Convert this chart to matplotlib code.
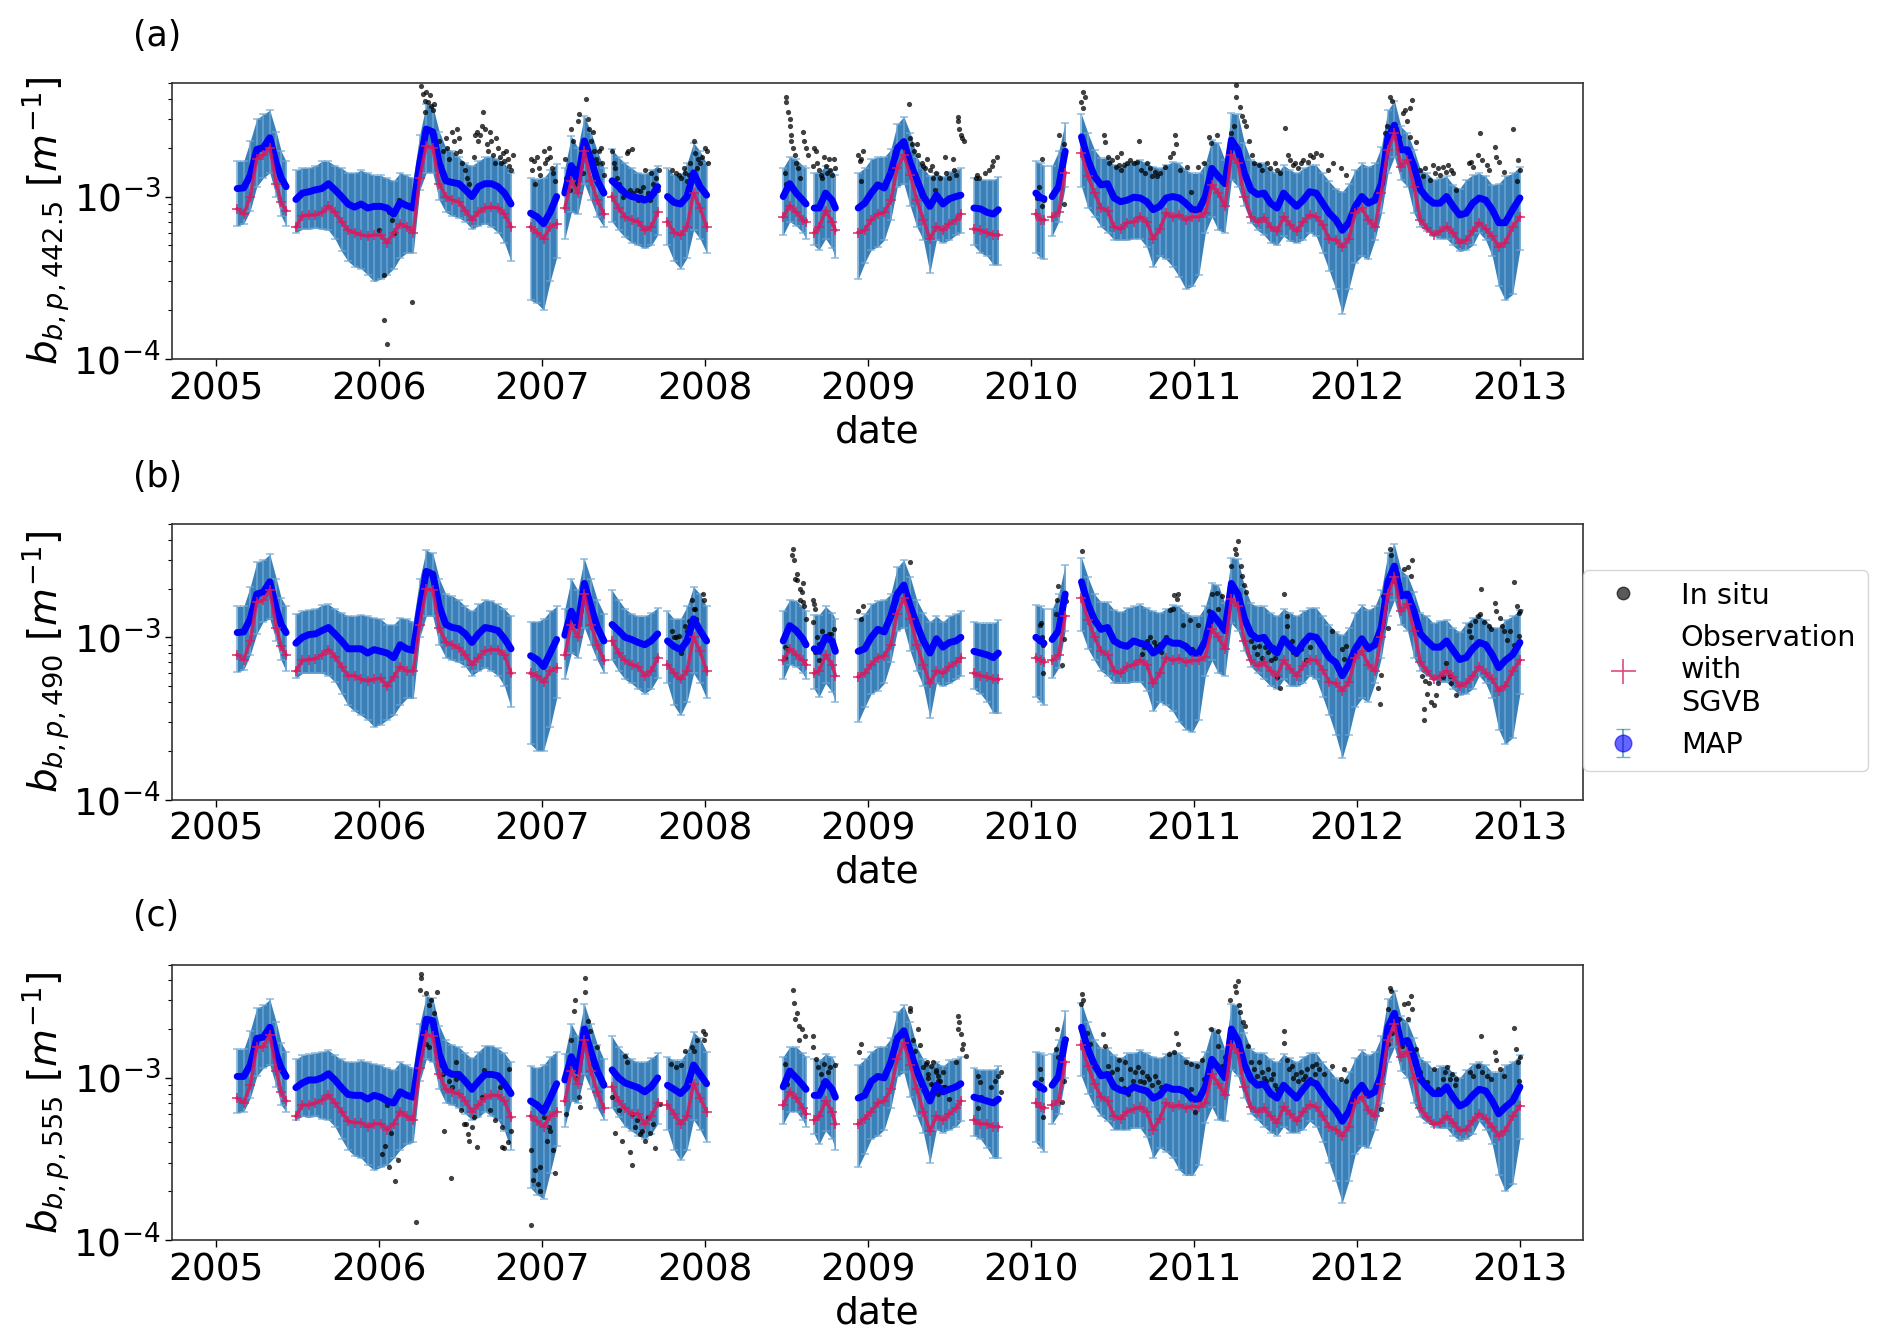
import numpy as np
import matplotlib
matplotlib.use('Agg')
import matplotlib.pyplot as plt
from matplotlib.lines import Line2D

# all b_bp values below are in units of 1e-3 m^-1
dates = [2005.13,2005.17,2005.21,2005.25,2005.29,2005.33,2005.37,2005.40,2005.43,
 2005.49,2005.53,2005.57,2005.61,2005.65,2005.69,2005.73,2005.77,2005.81,2005.85,2005.89,2005.93,2005.97,2006.01,2006.05,2006.09,2006.13,2006.17,2006.21,2006.25,2006.29,2006.33,2006.37,2006.41,2006.45,2006.49,2006.53,2006.57,2006.61,2006.65,2006.69,2006.73,2006.77,2006.81,
 2006.93,2006.97,2007.01,2007.05,2007.09,
 2007.14,2007.18,2007.22,2007.26,2007.30,2007.34,2007.38,
 2007.43,2007.47,2007.51,2007.55,2007.59,2007.63,2007.67,2007.71,
 2007.77,2007.81,2007.85,2007.89,2007.93,2007.97,2008.01,
 2008.48,2008.52,2008.56,2008.60,2008.62,
 2008.67,2008.70,2008.74,2008.78,2008.80,
 2008.94,2008.98,2009.02,2009.06,2009.10,2009.14,2009.18,2009.22,2009.26,2009.30,2009.34,2009.38,2009.42,2009.46,2009.50,2009.54,2009.57,
 2009.65,2009.69,2009.73,2009.77,2009.80,
 2010.03,2010.06,2010.08,
 2010.13,2010.17,2010.21,
 2010.31,2010.35,2010.39,2010.43,2010.47,2010.51,2010.55,2010.59,2010.63,2010.67,2010.71,2010.75,2010.79,2010.83,2010.87,2010.91,2010.95,2010.99,
 2011.03,2011.07,2011.11,2011.15,2011.19,2011.23,2011.27,2011.31,2011.35,2011.39,2011.43,2011.47,2011.51,2011.55,2011.59,2011.63,2011.67,2011.71,2011.75,2011.79,2011.83,2011.87,2011.91,2011.95,2011.99,
 2012.03,2012.07,2012.11,2012.15,2012.19,2012.23,2012.27,2012.31,2012.35,2012.39,2012.43,2012.47,2012.51,2012.55,2012.59,2012.63,2012.67,2012.71,2012.75,2012.79,2012.83,2012.87,2012.91,2012.955,2013.00]

map_a = [1.12,1.13,1.35,1.95,2.0,2.3,1.6,1.3,1.15,
 .96,1.05,1.07,1.1,1.12,1.2,1.1,1.0,.9,.86,.9,.85,.87,.87,.85,.78,.92,.88,.85,1.6,2.6,2.5,1.6,1.25,1.22,1.2,1.1,1.0,1.15,1.2,1.2,1.15,1.05,.9,
 .79,.75,.68,.8,1.0,
 1.05,1.55,1.25,2.2,1.7,1.25,1.05,
 1.25,1.15,1.05,1.0,.98,.95,1.0,1.15,
 1.0,.92,.9,1.0,1.4,1.15,1.02,
 1.0,1.2,1.05,.95,.9,
 .85,.85,1.05,.95,.85,
 .85,.91,1.05,1.18,1.13,1.4,1.98,2.18,1.6,1.27,1.0,.87,1.02,.9,.97,1.0,1.02,
 .85,.84,.8,.78,.83,
 1.05,.98,.97,
 1.0,1.15,1.9,
 2.33,1.68,1.33,1.18,1.2,.98,.93,.95,.99,.98,.93,.83,.87,.98,1.0,.98,.91,.83,
 .83,1.0,1.49,1.33,1.2,2.23,1.94,1.39,1.1,1.03,1.05,.91,.85,1.05,.95,.87,.95,1.07,1.05,.91,.79,.72,.62,.69,.87,
 1.0,.91,.95,1.2,2.3,2.75,1.94,1.94,1.53,1.1,.98,.91,.91,1.0,.87,.77,.79,.91,.98,.95,.83,.69,.69,.83,.98]
hi_a = [1.65,1.65,2.2,3.0,3.2,3.4,2.5,1.9,1.65,
 1.45,1.5,1.5,1.55,1.65,1.65,1.55,1.5,1.4,1.4,1.45,1.4,1.35,1.35,1.3,1.25,1.4,1.35,1.3,2.4,3.7,3.6,2.5,2.0,1.9,1.75,1.6,1.55,1.65,1.75,1.75,1.7,1.6,1.4,
 1.3,1.28,1.3,1.45,1.58,
 1.5,2.35,2.0,3.15,2.5,1.9,1.5,
 1.95,1.75,1.6,1.5,1.4,1.38,1.45,1.55,
 1.5,1.35,1.35,1.6,2.15,1.9,1.6,
 1.5,1.75,1.7,1.55,1.5,
 1.4,1.4,1.55,1.45,1.35,
 1.4,1.5,1.7,1.75,1.75,1.95,2.8,3.1,2.45,1.75,1.5,1.33,1.4,1.32,1.42,1.46,1.5,
 1.3,1.27,1.27,1.27,1.32,
 1.65,1.6,1.55,
 1.55,1.9,2.85,
 3.2,2.45,1.94,1.72,1.72,1.56,1.53,1.6,1.64,1.68,1.6,1.53,1.49,1.56,1.64,1.6,1.46,1.39,
 1.39,1.6,2.23,2.13,1.68,3.25,3.2,2.13,1.68,1.6,1.6,1.46,1.39,1.56,1.46,1.39,1.49,1.56,1.56,1.39,1.24,1.12,1.07,1.2,1.46,
 1.6,1.53,1.6,2.03,3.4,3.9,2.7,2.45,1.94,1.46,1.39,1.27,1.3,1.33,1.18,1.12,1.27,1.36,1.39,1.33,1.18,1.2,1.33,1.39,1.53]
lo_a = [.66,.68,.82,1.15,1.3,1.4,1.0,.76,.66,
 .6,.63,.63,.64,.63,.62,.55,.46,.4,.37,.36,.33,.3,.31,.33,.36,.42,.45,.45,1.1,1.4,1.4,.95,.8,.76,.74,.7,.63,.66,.68,.65,.6,.52,.4,
 .23,.22,.2,.3,.42,
 .55,.8,.78,1.2,.95,.75,.65,
 .7,.62,.56,.52,.5,.48,.5,.58,
 .5,.4,.36,.42,.62,.55,.45,
 .58,.7,.66,.6,.55,
 .5,.47,.55,.48,.42,
 .31,.39,.47,.49,.54,.72,1.15,1.2,.87,.65,.54,.34,.54,.52,.54,.58,.6,
 .5,.45,.43,.38,.38,
 .45,.42,.41,
 .57,.7,1.15,
 1.15,.85,.75,.65,.6,.54,.54,.54,.55,.55,.49,.37,.43,.41,.37,.32,.27,.28,
 .33,.6,.75,.62,.6,1.27,1.15,.87,.69,.62,.58,.52,.5,.57,.53,.52,.54,.6,.57,.45,.35,.27,.19,.27,.39,
 .43,.41,.54,.79,1.39,1.76,1.27,1.15,.79,.65,.61,.57,.55,.55,.5,.46,.47,.5,.6,.54,.43,.28,.23,.25,.47]
obs_a = [.84,.78,1.0,1.7,1.8,2.0,1.2,.92,.82,
 .65,.76,.77,.77,.8,.87,.8,.7,.62,.6,.58,.57,.58,.58,.52,.6,.68,.65,.6,1.3,2.05,2.0,1.2,1.0,.95,.93,.82,.72,.8,.85,.86,.85,.78,.65,
 .65,.6,.55,.65,.68,
 .85,1.25,1.05,1.9,1.25,.95,.78,
 1.0,.85,.75,.72,.7,.62,.65,.8,
 .7,.6,.58,.65,1.05,.85,.65,
 .75,.88,.8,.72,.7,
 .6,.65,.82,.7,.62,
 .6,.62,.72,.78,.8,.95,1.5,1.8,1.35,.95,.72,.55,.65,.62,.68,.72,.78,
 .63,.62,.6,.58,.58,
 .78,.72,.72,
 .75,.8,1.4,
 1.85,1.33,1.05,.85,.82,.65,.63,.69,.7,.75,.7,.55,.63,.79,.75,.77,.72,.75,
 .75,.79,1.18,1.05,.87,1.8,1.6,1.0,.75,.7,.74,.65,.61,.75,.67,.61,.7,.77,.75,.67,.55,.54,.49,.55,.79,
 .85,.72,.65,1.05,1.94,2.45,1.53,1.68,1.15,.72,.64,.58,.61,.65,.6,.52,.54,.61,.69,.63,.57,.49,.52,.65,.75]

map_b = [1.07,1.08,1.3,1.85,1.9,2.2,1.5,1.2,1.07,
 .92,1.0,1.04,1.05,1.1,1.15,1.05,.95,.85,.85,.85,.8,.84,.82,.8,.75,.9,.85,.83,1.5,2.55,2.45,1.55,1.2,1.15,1.13,1.05,.93,1.05,1.15,1.13,1.1,.98,.85,
 .77,.73,.66,.8,.97,
 1.03,1.45,1.18,2.15,1.55,1.15,.95,
 1.2,1.1,1.0,.97,.93,.9,.95,1.05,
 .95,.88,.84,.95,1.3,1.1,.95,
 .95,1.18,1.1,.98,.9,
 .85,.82,1.0,.95,.82,
 .82,.85,1.0,1.12,1.08,1.35,1.85,2.1,1.55,1.2,.95,.8,.98,.87,.93,.95,1.0,
 .82,.8,.78,.75,.8,
 1.0,.95,.92,
 .97,1.1,1.85,
 2.2,1.6,1.28,1.12,1.15,.95,.9,.88,.95,.92,.9,.8,.85,.96,.92,.92,.88,.8,
 .8,.95,1.4,1.25,1.1,2.15,1.85,1.3,1.05,.98,1.0,.87,.8,.98,.88,.8,.92,1.02,1.0,.87,.75,.7,.58,.68,.85,
 .98,.85,.9,1.15,2.2,2.75,1.8,1.85,1.45,1.05,.95,.87,.87,.95,.83,.73,.75,.85,.93,.9,.78,.65,.72,.78,.93]
hi_b = [1.55,1.55,2.05,2.9,3.0,3.25,2.3,1.75,1.55,
 1.4,1.46,1.48,1.5,1.58,1.6,1.5,1.42,1.36,1.35,1.38,1.35,1.32,1.3,1.2,1.2,1.32,1.3,1.25,2.3,3.45,3.3,2.3,1.85,1.8,1.7,1.55,1.45,1.6,1.7,1.68,1.6,1.5,1.35,
 1.25,1.25,1.3,1.45,1.55,
 1.5,2.3,1.95,3.05,2.3,1.7,1.4,
 1.95,1.7,1.5,1.4,1.35,1.35,1.42,1.52,
 1.45,1.3,1.3,1.55,2.05,1.85,1.55,
 1.45,1.7,1.68,1.55,1.45,
 1.38,1.38,1.55,1.42,1.3,
 1.3,1.4,1.6,1.68,1.7,1.85,2.7,3.0,2.35,1.7,1.42,1.25,1.35,1.25,1.35,1.4,1.45,
 1.25,1.22,1.22,1.22,1.28,
 1.58,1.55,1.5,
 1.5,1.85,2.8,
 3.1,2.35,1.85,1.65,1.65,1.48,1.43,1.52,1.55,1.6,1.52,1.45,1.42,1.5,1.58,1.55,1.42,1.35,
 1.35,1.55,2.15,2.1,1.62,3.1,3.05,2.05,1.62,1.55,1.55,1.42,1.35,1.5,1.42,1.35,1.45,1.52,1.52,1.35,1.2,1.08,1.03,1.15,1.42,
 1.58,1.48,1.55,1.95,3.3,3.75,2.6,2.4,1.9,1.42,1.35,1.22,1.27,1.28,1.15,1.08,1.22,1.32,1.35,1.28,1.15,1.15,1.28,1.35,1.48]
lo_b = [.61,.63,.78,1.05,1.25,1.3,.95,.72,.62,
 .56,.6,.6,.6,.6,.58,.53,.45,.38,.35,.33,.31,.28,.29,.31,.33,.38,.42,.42,1.0,1.35,1.35,.9,.75,.72,.7,.66,.58,.62,.65,.62,.58,.5,.37,
 .22,.2,.2,.28,.42,
 .55,.8,.75,1.15,.9,.72,.6,
 .72,.62,.55,.52,.48,.45,.48,.56,
 .52,.38,.33,.4,.6,.52,.42,
 .55,.68,.66,.6,.55,
 .48,.43,.52,.46,.4,
 .3,.37,.45,.47,.52,.7,1.1,1.15,.82,.62,.5,.32,.52,.5,.52,.55,.58,
 .48,.45,.4,.34,.34,
 .43,.4,.38,
 .56,.65,1.1,
 1.1,.85,.72,.62,.58,.52,.52,.52,.53,.53,.47,.35,.4,.38,.35,.3,.27,.26,
 .31,.58,.72,.6,.58,1.22,1.1,.82,.66,.6,.55,.5,.48,.55,.5,.5,.52,.58,.55,.43,.33,.25,.18,.25,.37,
 .42,.4,.52,.75,1.35,1.7,1.2,1.1,.75,.62,.58,.55,.53,.53,.48,.44,.45,.48,.58,.52,.42,.27,.22,.24,.45]
obs_b = [.78,.73,.95,1.65,1.7,1.95,1.15,.88,.78,
 .62,.72,.73,.74,.78,.84,.76,.66,.58,.58,.55,.54,.55,.56,.5,.57,.66,.62,.62,1.2,1.98,1.95,1.15,.93,.9,.86,.78,.68,.75,.82,.84,.84,.78,.6,
 .6,.58,.53,.62,.65,
 .78,1.2,1.0,1.85,1.2,.9,.72,
 .95,.8,.72,.68,.66,.58,.62,.75,
 .68,.6,.55,.62,1.0,.82,.62,
 .72,.85,.78,.72,.68,
 .6,.62,.78,.68,.58,
 .57,.6,.68,.75,.77,.9,1.4,1.75,1.3,.9,.68,.52,.62,.6,.66,.7,.75,
 .6,.58,.57,.55,.55,
 .75,.72,.7,
 .72,.78,1.35,
 1.75,1.28,1.0,.82,.78,.62,.6,.66,.68,.72,.68,.52,.6,.75,.72,.74,.7,.72,
 .72,.76,1.12,1.0,.85,1.72,1.55,.95,.72,.67,.7,.62,.58,.72,.64,.58,.67,.73,.72,.63,.53,.52,.47,.53,.75,
 .82,.68,.62,1.0,1.85,2.35,1.45,1.6,1.1,.7,.62,.55,.58,.62,.57,.5,.52,.58,.66,.6,.55,.47,.5,.62,.72]

map_c = [1.02,1.02,1.2,1.75,1.78,2.05,1.4,1.15,1.02,
 .87,.93,.97,.97,1.0,1.06,.97,.87,.79,.78,.78,.74,.78,.76,.72,.7,.82,.78,.76,1.4,2.3,2.25,1.4,1.1,1.05,1.05,.95,.85,.95,1.05,1.05,1.03,.92,.8,
 .72,.68,.62,.75,.92,
 .97,1.35,1.1,2.0,1.45,1.1,.9,
 1.12,1.0,.93,.9,.87,.82,.88,1.0,
 .9,.85,.8,.88,1.2,1.05,.92,
 .88,1.1,1.0,.9,.85,
 .78,.78,.95,.85,.76,
 .75,.78,.95,1.02,1.0,1.25,1.75,1.95,1.45,1.1,.88,.72,.9,.82,.85,.88,.92,
 .76,.74,.72,.7,.74,
 .92,.88,.85,
 .9,1.02,1.72,
 2.05,1.5,1.2,1.03,1.05,.88,.84,.82,.88,.85,.83,.75,.78,.88,.85,.85,.82,.74,
 .74,.88,1.3,1.15,1.0,2.0,1.7,1.2,.98,.9,.92,.8,.75,.9,.82,.75,.85,.95,.92,.8,.7,.63,.54,.62,.8,
 .9,.78,.82,1.05,2.05,2.5,1.65,1.7,1.35,.98,.88,.8,.8,.88,.76,.67,.7,.78,.85,.83,.72,.6,.66,.72,.88]
hi_c = [1.5,1.5,1.95,2.7,2.8,3.05,2.2,1.65,1.45,
 1.3,1.38,1.4,1.42,1.45,1.48,1.38,1.3,1.25,1.25,1.28,1.25,1.22,1.2,1.15,1.12,1.25,1.2,1.15,2.15,3.2,3.1,2.1,1.7,1.6,1.55,1.42,1.32,1.45,1.58,1.58,1.52,1.42,1.25,
 1.18,1.15,1.2,1.35,1.45,
 1.4,2.15,1.8,2.85,2.15,1.6,1.3,
 1.8,1.55,1.4,1.3,1.25,1.25,1.32,1.42,
 1.35,1.28,1.28,1.45,1.92,1.75,1.45,
 1.35,1.55,1.55,1.42,1.35,
 1.3,1.28,1.4,1.35,1.22,
 1.2,1.3,1.45,1.55,1.55,1.75,2.55,2.8,2.2,1.55,1.3,1.18,1.25,1.18,1.28,1.3,1.35,
 1.15,1.12,1.12,1.12,1.18,
 1.45,1.42,1.38,
 1.4,1.72,2.6,
 2.9,2.2,1.72,1.52,1.52,1.38,1.32,1.42,1.42,1.48,1.42,1.35,1.32,1.4,1.45,1.42,1.32,1.25,
 1.25,1.45,2.0,1.95,1.5,2.85,2.8,1.9,1.5,1.42,1.42,1.3,1.25,1.4,1.32,1.25,1.35,1.42,1.42,1.25,1.12,1.0,.95,1.08,1.32,
 1.48,1.38,1.45,1.8,3.05,3.45,2.4,2.2,1.75,1.32,1.25,1.12,1.18,1.18,1.07,1.0,1.12,1.22,1.25,1.2,1.08,1.08,1.2,1.25,1.38]
lo_c = [.61,.62,.75,1.02,1.15,1.2,.88,.68,.62,
 .55,.58,.57,.58,.56,.55,.5,.42,.36,.33,.32,.29,.27,.28,.29,.32,.36,.39,.4,.95,1.3,1.25,.85,.7,.68,.65,.6,.55,.57,.62,.58,.55,.47,.36,
 .21,.19,.18,.26,.38,
 .5,.72,.7,1.05,.85,.65,.55,
 .65,.57,.5,.47,.44,.42,.45,.52,
 .48,.36,.31,.36,.55,.48,.4,
 .52,.62,.62,.55,.5,
 .45,.39,.47,.42,.36,
 .28,.34,.42,.44,.48,.65,1.02,1.08,.76,.58,.46,.3,.48,.46,.48,.5,.54,
 .44,.42,.37,.32,.32,
 .4,.37,.35,
 .52,.6,1.0,
 1.02,.8,.66,.58,.54,.48,.48,.48,.49,.49,.43,.32,.37,.35,.32,.27,.25,.25,
 .29,.53,.66,.55,.54,1.12,1.02,.75,.6,.55,.5,.46,.44,.5,.46,.46,.48,.54,.5,.4,.3,.23,.17,.23,.34,
 .38,.37,.48,.7,1.25,1.55,1.1,1.0,.7,.57,.53,.5,.49,.49,.44,.41,.42,.45,.54,.48,.39,.25,.2,.22,.42]
obs_c = [.75,.7,.9,1.55,1.55,1.85,1.1,.82,.72,
 .58,.68,.68,.7,.73,.78,.7,.62,.54,.53,.53,.5,.52,.52,.48,.52,.62,.58,.55,1.15,1.85,1.8,1.05,.85,.82,.8,.72,.62,.68,.75,.78,.78,.72,.57,
 .58,.54,.5,.58,.62,
 .72,1.1,.92,1.7,1.1,.82,.65,
 .88,.72,.65,.6,.6,.52,.58,.7,
 .68,.6,.52,.58,.92,.75,.62,
 .68,.82,.75,.65,.6,
 .55,.58,.72,.62,.52,
 .52,.56,.62,.7,.72,.85,1.3,1.65,1.2,.85,.62,.47,.58,.55,.6,.65,.72,
 .55,.52,.52,.5,.5,
 .7,.66,.65,
 .68,.72,1.25,
 1.6,1.18,.92,.76,.72,.58,.56,.62,.64,.66,.62,.48,.56,.7,.66,.68,.65,.67,
 .66,.7,1.05,.92,.78,1.6,1.42,.88,.66,.62,.65,.58,.53,.66,.6,.54,.62,.68,.66,.58,.5,.48,.44,.5,.7,
 .76,.63,.58,.92,1.7,2.15,1.35,1.45,1.0,.65,.57,.52,.53,.58,.53,.47,.48,.54,.6,.56,.5,.44,.47,.58,.67]

insitu_a = [(2006.03,.33),(2006.03,.175),(2006.05,.123),(2006.2,.225),(2006.06,.8),(2006.08,.72),(2006.09,.6),(2006.0,.62),(2006.12,.95),
 (2006.26,4.8),(2006.27,4.3),(2006.28,3.9),(2006.29,4.4),(2006.3,3.8),(2006.31,4.2),(2006.32,3.6),(2006.33,3.4),(2006.34,3.7),(2006.28,3.3),
 (2006.37,2.2),(2006.39,1.9),(2006.38,1.55),(2006.41,2.3),(2006.42,2.0),(2006.43,1.7),(2006.45,2.5),(2006.46,2.2),(2006.47,1.85),(2006.48,2.6),(2006.49,2.3),(2006.5,1.9),(2006.51,1.6),(2006.53,1.45),(2006.54,1.3),(2006.55,1.2),(2006.58,1.75),(2006.59,2.4),(2006.6,2.5),(2006.61,2.2),(2006.62,2.4),(2006.63,2.7),(2006.64,3.3),(2006.65,2.6),(2006.66,2.1),(2006.67,1.9),(2006.68,2.5),(2006.69,2.2),(2006.7,1.8),(2006.71,1.6),(2006.72,2.3),(2006.73,2.0),(2006.74,1.75),(2006.75,1.6),(2006.76,1.85),(2006.77,1.65),(2006.78,1.9),(2006.79,1.7),(2006.8,1.55),(2006.81,1.45),(2006.82,1.8),
 (2006.93,1.7),(2006.94,1.45),(2006.95,1.65),(2006.96,1.2),(2006.97,1.75),(2006.98,1.5),(2006.99,1.35),(2007.01,1.9),(2007.02,1.6),(2007.03,1.7),(2007.04,2.0),(2007.05,1.75),(2007.06,1.5),(2007.07,1.4),(2007.08,1.25),
 (2007.14,1.7),(2007.15,1.3),(2007.17,1.1),(2007.18,2.6),(2007.19,2.2),(2007.2,1.5),(2007.21,1.2),(2007.22,2.9),(2007.23,3.2),(2007.24,2.0),(2007.25,1.4),(2007.26,1.8),(2007.27,4.0),(2007.28,3.0),(2007.29,2.6),(2007.3,2.2),(2007.31,2.5),(2007.32,1.9),(2007.33,1.7),(2007.34,1.6),(2007.35,1.9),(2007.36,2.0),(2007.37,1.6),(2007.38,1.35),
 (2007.43,1.9),(2007.44,1.6),(2007.45,1.5),(2007.46,1.3),(2007.47,1.2),(2007.48,1.1),(2007.5,1.0),(2007.52,1.85),(2007.53,1.9),(2007.54,1.1),(2007.55,1.95),(2007.56,1.05),(2007.57,1.0),(2007.58,1.1),(2007.59,.95),(2007.6,1.08),(2007.61,1.0),(2007.62,1.15),(2007.63,1.45),(2007.64,.98),(2007.65,1.05),(2007.66,.95),(2007.67,1.4),(2007.68,1.2),(2007.69,1.05),(2007.7,1.3),(2007.71,1.1),(2007.72,1.45),
 (2007.8,1.45),(2007.82,1.4),(2007.84,1.35),(2007.85,1.3),(2007.87,1.5),(2007.88,1.4),(2007.89,1.25),(2007.9,1.35),(2007.91,1.6),(2007.93,2.2),(2007.94,1.85),(2007.95,1.5),(2007.96,1.7),(2007.97,1.6),(2007.98,1.75),(2008.0,2.0),(2008.01,1.9),(2008.02,1.6),
 (2008.5,4.1),(2008.5,3.8),(2008.51,3.3),(2008.52,3.0),(2008.52,2.7),(2008.53,2.4),(2008.53,2.2),(2008.54,2.0),(2008.49,1.4),(2008.5,1.2),(2008.55,1.8),(2008.56,1.6),(2008.57,1.5),(2008.58,1.3),(2008.6,2.5),(2008.61,2.2),(2008.62,2.0),(2008.63,1.8),(2008.66,1.55),(2008.67,2.0),(2008.68,1.9),(2008.69,1.6),(2008.7,1.45),(2008.71,1.35),(2008.72,1.3),(2008.73,1.75),(2008.74,1.55),(2008.75,1.4),(2008.76,1.7),(2008.77,1.45),(2008.78,1.35),(2008.79,1.7),(2008.8,1.5),
 (2008.94,1.8),(2008.95,1.65),(2008.96,1.25),(2008.96,1.7),(2008.97,1.9),
 (2009.25,3.7),(2009.26,2.3),(2009.27,2.1),(2009.28,1.9),(2009.3,2.1),(2009.31,1.8),(2009.33,1.6),(2009.34,1.55),(2009.35,1.5),(2009.36,1.7),(2009.38,1.45),(2009.39,1.55),(2009.4,1.3),(2009.41,1.1),(2009.42,1.4),(2009.44,1.3),(2009.47,1.75),(2009.48,1.4),(2009.5,1.3),(2009.52,1.7),(2009.53,1.45),(2009.54,1.35),(2009.55,3.1),(2009.555,2.9),(2009.56,2.6),(2009.57,2.4),(2009.58,2.3),(2009.59,2.2),
 (2009.66,1.3),(2009.67,1.35),(2009.68,1.3),(2009.72,1.4),(2009.74,1.45),(2009.76,1.55),(2009.77,1.65),(2009.79,1.75),
 (2010.04,.98),(2010.05,1.15),(2010.06,1.0),(2010.07,.88),(2010.08,.95),(2010.07,1.7),(2010.17,2.4),(2010.18,1.15),(2010.2,.9),(2010.205,2.1),(2010.21,1.9),(2010.31,3.8),(2010.32,4.4),(2010.33,4.1),(2010.32,3.5),
 (2010.45,2.4),(2010.455,2.18),(2010.47,1.76),(2010.48,1.6),(2010.5,1.68),(2010.52,1.53),(2010.525,1.76),(2010.54,1.56),(2010.55,1.85),(2010.555,1.46),(2010.57,1.56),(2010.59,1.6),(2010.61,1.68),(2010.635,1.6),(2010.65,1.64),(2010.665,2.2),(2010.675,1.46),(2010.7,1.39),(2010.71,1.6),(2010.73,1.49),(2010.745,1.33),(2010.76,1.42),(2010.775,1.33),(2010.79,1.39),(2010.82,1.53),(2010.855,1.76),(2010.87,1.85),(2010.885,2.4),(2010.89,2.1),(2010.915,1.46),(2010.96,1.53),(2010.98,1.07),
 (2011.025,1.53),(2011.06,1.6),(2011.09,2.33),(2011.105,2.13),(2011.14,2.4),(2011.23,2.45),(2011.245,2.7),(2011.26,4.85),(2011.26,4.1),(2011.28,3.55),(2011.295,3.15),(2011.31,2.9),(2011.32,2.7),(2011.34,2.2),(2011.355,1.8),(2011.37,1.6),(2011.4,1.56),(2011.42,1.46),(2011.45,1.6),(2011.465,1.49),(2011.495,1.6),(2011.51,1.46),(2011.53,1.39),(2011.56,2.63),(2011.575,1.8),(2011.59,1.68),(2011.605,1.56),(2011.62,1.6),(2011.64,1.49),(2011.655,1.6),(2011.67,1.68),(2011.7,1.64),(2011.715,1.8),(2011.73,1.76),(2011.75,1.85),(2011.78,1.8),(2011.825,1.46),(2011.855,1.6),(2011.9,1.49),(2011.935,1.36),
 (2012.14,1.1),(2012.17,2.45),(2012.185,2.7),(2012.2,4.1),(2012.215,3.9),(2012.23,2.7),(2012.245,2.45),(2012.26,2.33),(2012.28,3.25),(2012.295,3.4),(2012.31,2.9),(2012.325,3.5),(2012.335,3.95),(2012.325,2.33),(2012.365,2.18),(2012.385,1.46),(2012.405,1.33),(2012.42,1.49),(2012.45,1.27),(2012.465,1.56),(2012.48,1.39),(2012.5,1.49),(2012.51,1.36),(2012.53,1.53),(2012.545,1.42),(2012.56,1.56),(2012.575,1.46),(2012.59,1.39),(2012.605,1.1),(2012.685,1.6),(2012.7,1.64),(2012.715,1.53),(2012.74,1.8),(2012.755,2.47),(2012.765,1.68),(2012.795,1.56),(2012.81,1.46),(2012.845,2.03),(2012.855,1.76),(2012.87,1.64),(2012.905,1.42),(2012.96,2.6),(2012.98,1.24),(2012.99,1.68),(2013.0,1.46)]

insitu_b = [(2007.8,1.1),(2007.81,1.0),(2007.82,1.0),(2007.84,1.02),(2007.85,.8),(2007.86,.85),(2007.88,1.18),(2007.89,1.1),(2007.9,1.27),(2007.91,1.2),(2007.92,1.7),(2007.93,1.5),(2007.94,1.5),(2007.945,1.3),(2007.99,1.85),(2007.995,1.7),
 (2008.54,3.5),(2008.535,3.2),(2008.545,3.0),(2008.565,2.45),(2008.55,2.3),(2008.565,2.25),(2008.583,2.0),(2008.6,2.15),(2008.595,1.9),(2008.58,1.7),(2008.6,1.65),(2008.605,1.55),(2008.49,.87),(2008.49,.75),(2008.51,.85),(2008.53,1.15),(2008.66,1.7),(2008.67,1.6),(2008.675,1.5),(2008.62,1.3),(2008.66,1.25),(2008.69,1.0),(2008.7,.91),(2008.72,1.09),(2008.73,1.0),(2008.745,1.02),(2008.76,1.05),(2008.775,1.05),(2008.79,1.13),(2008.675,.81),(2008.7,.72),(2008.94,1.45),(2008.955,1.3),(2008.97,1.55),(2009.26,2.9),
 (2010.055,1.2),(2010.06,1.23),(2010.05,.95),(2010.075,.9),(2010.075,.6),(2010.065,1.01),(2010.165,2.07),(2010.16,1.7),(2010.155,1.4),(2010.19,.68),(2010.2,.97),(2010.215,1.68),(2010.315,3.4),
 (2010.668,.91),(2010.68,.79),(2010.695,.87),(2010.71,.95),(2010.724,.89),(2010.732,1.0),(2010.738,.83),(2010.752,.93),(2010.766,.89),(2010.78,.87),(2010.794,.91),(2010.8,.81),(2010.828,1.0),(2010.842,.95),(2010.856,1.47),(2010.87,1.5),(2010.88,1.83),(2010.893,1.72),(2010.9,1.85),(2010.935,1.2),(2010.977,1.28),(2010.99,.85),(2011.025,1.2),
 (2011.07,.98),(2011.09,1.46),(2011.11,1.86),(2011.14,1.89),(2011.15,1.5),(2011.175,1.8),(2011.23,2.76),(2011.25,3.5),(2011.27,3.9),(2011.26,3.25),(2011.287,2.76),(2011.296,2.4),(2011.31,2.1),(2011.32,1.9),(2011.34,1.15),(2011.35,.95),(2011.37,.87),(2011.385,.79),(2011.4,.89),(2011.415,.75),(2011.437,.87),(2011.456,.81),(2011.47,.72),(2011.485,.87),(2011.5,.75),(2011.51,.57),(2011.527,.49),(2011.555,1.85),(2011.57,1.18),(2011.57,1.36),(2011.6,.95),(2011.61,.81),(2011.625,.79),(2011.655,.85),(2011.67,.93),(2011.685,.72),(2011.71,.87),(2011.74,1.0),(2011.765,.93),(2011.795,.87),(2011.825,.78),(2011.85,1.09),(2011.91,.85),(2011.93,.89),(2011.92,.74),
 (2012.14,.39),(2012.13,.49),(2012.145,.59),(2012.16,1.8),(2012.19,1.15),(2012.2,3.5),(2012.21,3.2),(2012.225,2.23),(2012.245,2.45),(2012.26,2.13),(2012.275,1.85),(2012.29,2.63),(2012.315,2.7),(2012.34,3.0),(2012.33,2.4),(2012.365,1.3),(2012.4,.58),(2012.415,.54),(2012.43,.45),(2012.41,.36),(2012.41,.31),(2012.44,.52),(2012.455,.4),(2012.47,.38),(2012.485,.44),(2012.5,.52),(2012.525,.57),(2012.545,.69),(2012.57,.58),(2012.58,.52),(2012.61,.44),
 (2012.69,1.1),(2012.7,1.0),(2012.695,1.2),(2012.725,1.27),(2012.74,1.36),(2012.755,1.39),(2012.76,1.98),(2012.78,1.25),(2012.81,1.18),(2012.825,1.13),(2012.85,1.64),(2012.855,1.46),(2012.88,1.32),(2012.89,1.18),(2012.905,1.1),(2012.92,.96),(2012.94,1.1),(2012.965,2.18),(2012.965,.9),(2012.98,1.56),(2012.995,1.42),(2012.995,1.02),(2013.0,1.46)]

insitu_c = [(2006.02,.34),(2006.035,.38),(2006.06,.28),(2006.1,.23),(2006.115,.31),(2006.05,.68),(2006.075,.46),(2006.225,.13),
 (2006.255,4.4),(2006.26,4.15),(2006.25,3.5),(2006.29,3.35),(2006.355,3.4),(2006.32,3.0),(2006.305,2.8),(2006.335,2.5),(2006.335,1.86),(2006.29,1.62),(2006.305,1.54),(2006.35,1.47),(2006.365,1.34),(2006.38,1.2),(2006.395,1.06),(2006.41,1.11),(2006.43,.96),(2006.445,.88),(2006.475,1.25),(2006.475,.98),(2006.505,.63),(2006.52,.52),(2006.535,.52),(2006.545,.45),(2006.555,.41),(2006.57,.5),(2006.585,.57),(2006.6,.375),(2006.4,.47),(2006.44,.24),(2006.63,.76),(2006.645,1.11),(2006.68,.63),(2006.71,.55),(2006.74,.88),(2006.755,.5),(2006.77,.37),(2006.8,1.14),(2006.81,.47),(2006.79,.4),(2006.755,.375),
 (2006.93,.36),(2006.945,.235),(2006.96,.27),(2006.99,.28),(2006.975,.22),(2006.99,.2),(2006.93,.123),(2007.01,.57),(2007.03,.41),(2007.05,.47),(2007.07,.36),(2007.08,.26),(2007.04,.5),(2007.005,.66),
 (2007.15,.6),(2007.18,1.7),(2007.195,2.6),(2007.2,3.0),(2007.21,1.0),(2007.225,.76),(2007.235,.66),(2007.24,1.47),(2007.265,4.15),(2007.265,3.4),(2007.28,2.25),(2007.295,1.95),(2007.31,1.22),(2007.335,1.54),(2007.365,1.0),(2007.38,.92),
 (2007.43,.76),(2007.45,.46),(2007.47,.63),(2007.49,.41),(2007.51,1.37),(2007.52,1.25),(2007.54,.35),(2007.55,.29),(2007.555,.6),(2007.57,.5),(2007.585,.55),(2007.6,.45),(2007.615,.47),(2007.635,.41),(2007.65,.57),(2007.665,.46),(2007.68,.52),(2007.695,.37),(2007.725,.69),
 (2007.79,1.22),(2007.82,1.16),(2007.85,1.2),(2007.88,1.47),(2007.92,1.54),(2007.93,1.47),(2007.95,1.7),(2007.99,1.95),(2007.995,1.7),(2008.0,1.86),
 (2008.54,3.5),(2008.545,2.9),(2008.565,2.5),(2008.555,2.3),(2008.575,2.1),(2008.595,2.0),(2008.575,1.7),(2008.615,1.82),(2008.49,1.22),(2008.52,1.11),(2008.505,.92),(2008.66,1.82),(2008.66,1.54),(2008.68,1.3),(2008.695,1.16),(2008.71,1.06),(2008.73,1.22),(2008.755,1.08),(2008.77,1.16),(2008.795,1.2),(2008.725,.94),(2008.945,1.44),(2008.96,1.62),
 (2009.255,2.7),(2009.26,2.6),(2009.31,2.0),(2009.275,1.7),(2009.29,1.47),(2009.32,1.6),(2009.34,1.16),(2009.355,1.22),(2009.37,1.06),(2009.385,.92),(2009.4,1.25),(2009.415,1.11),(2009.43,1.03),(2009.445,.96),(2009.46,.88),(2009.36,1.25),(2009.385,1.19),(2009.415,1.08),(2009.37,1.0),(2009.4,.9),(2009.43,.96),(2009.43,.8),(2009.46,1.08),(2009.47,.88),(2009.5,.74),(2009.54,1.25),(2009.555,2.42),(2009.56,2.2),(2009.555,2.0),(2009.57,1.86),(2009.585,1.62),(2009.6,1.37),(2009.58,1.5),
 (2009.673,1.03),(2009.69,.94),(2009.673,.65),(2009.695,.76),(2009.752,.88),(2009.78,.96),(2009.795,1.03),(2009.814,1.08),(2009.814,.82),
 (2010.055,1.13),(2010.06,.99),(2010.05,.86),(2010.075,.57),(2010.16,2.0),(2010.155,1.5),(2010.165,1.34),(2010.19,.71),(2010.2,.96),(2010.215,1.74),(2010.31,2.85),(2010.315,3.3),(2010.32,3.0),(2010.345,1.9),(2010.365,1.62),(2010.44,1.86),(2010.455,1.58),
 (2010.475,1.19),(2010.485,.99),(2010.5,1.08),(2010.51,.9),(2010.525,1.13),(2010.54,1.28),(2010.555,.99),(2010.57,.86),(2010.58,1.25),(2010.595,.8),(2010.61,1.13),(2010.625,.96),(2010.64,1.08),(2010.655,1.16),(2010.67,.96),(2010.68,1.08),(2010.695,.94),(2010.71,1.03),(2010.725,.99),(2010.74,.9),(2010.76,1.03),(2010.78,.94),(2010.8,.88),(2010.85,1.41),(2010.88,1.44),(2010.89,1.9),(2010.9,1.62),(2010.95,1.25),(2010.98,1.22),(2011.02,1.19),(2011.05,1.28),(2010.985,.855),(2011.005,.615),
 (2011.06,.985),(2011.08,.94),(2011.105,2.0),(2011.145,1.95),(2011.145,1.58),(2011.175,1.19),(2011.19,1.34),(2011.22,3.0),(2011.25,3.7),(2011.27,3.96),(2011.26,3.36),(2011.275,2.8),(2011.285,2.53),(2011.3,2.2),(2011.315,2.1),(2011.33,1.58),(2011.35,1.25),(2011.37,1.13),(2011.385,1.03),(2011.4,1.25),(2011.415,1.08),(2011.43,1.0),(2011.445,.96),(2011.455,1.13),(2011.47,.985),(2011.485,1.06),(2011.5,.9),(2011.51,.855),(2011.555,1.95),(2011.555,1.65),(2011.57,1.28),(2011.585,1.13),(2011.6,1.19),(2011.61,1.0),(2011.625,1.06),(2011.64,.96),(2011.655,1.08),(2011.67,.985),(2011.68,1.03),(2011.695,1.13),(2011.71,.985),(2011.725,1.19),(2011.74,1.06),(2011.75,1.22),(2011.765,1.13),(2011.795,1.06),(2011.85,1.19),(2011.905,.985),(2011.92,1.13),(2011.935,.96),
 (2012.145,.645),(2012.16,1.19),(2012.19,1.62),(2012.2,3.6),(2012.21,3.45),(2012.19,2.65),(2012.225,2.42),(2012.245,2.2),(2012.26,2.3),(2012.215,1.9),(2012.275,1.58),(2012.29,2.85),(2012.315,2.9),(2012.33,3.2),(2012.34,2.65),(2012.315,2.3),(2012.365,1.5),(2012.385,1.08),(2012.4,.985),(2012.415,.9),(2012.43,.94),(2012.44,.855),(2012.47,1.13),(2012.485,.816),(2012.5,.855),(2012.525,.985),(2012.54,1.08),(2012.555,1.16),(2012.57,.985),(2012.585,1.06),(2012.6,.9),(2012.61,.985),(2012.695,1.08),(2012.71,1.03),(2012.74,1.19),(2012.76,1.82),(2012.77,1.08),(2012.795,1.03),(2012.825,.985),(2012.85,1.44),(2012.855,1.28),(2012.88,1.13),(2012.905,1.03),(2012.975,1.5),(2012.965,2.04),(2012.99,1.25),(2013.0,1.34),(2012.995,.96),(2012.955,.76)]

panels = [('(a)', r'$b_{b,p,442.5}\ [m^{-1}]$', map_a, hi_a, lo_a, obs_a, insitu_a),
          ('(b)', r'$b_{b,p,490}\ [m^{-1}]$', map_b, hi_b, lo_b, obs_b, insitu_b),
          ('(c)', r'$b_{b,p,555}\ [m^{-1}]$', map_c, hi_c, lo_c, obs_c, insitu_c)]
year_ticks = [2005, 2006, 2007, 2008, 2009, 2010, 2011, 2012, 2013]

W, H = 1892, 1343
fig = plt.figure(figsize=(W / 100, H / 100), dpi=100)
boxes = [(83, 359), (524, 799.5), (964.5, 1240)]
title_y = [36, 477, 916]
t = np.array(dates)
# a new piece starts where the satellite record has a gap
pieces = np.split(np.arange(len(t)), np.where(np.diff(t) > 0.047)[0] + 1)

for i, (tag, ylab, m, hi, lo, obs, insitu) in enumerate(panels):
    top, bottom = boxes[i]
    ax = fig.add_axes([172 / W, 1 - bottom / H, (1583 - 172) / W, (bottom - top) / H])
    m, hi, lo, obs = [np.array(v) * 1e-3 for v in (m, hi, lo, obs)]
    for p in pieces:
        ax.fill_between(t[p], lo[p], hi[p], color='#3a7fb7', lw=0, zorder=1)
    ax.errorbar(t, m, yerr=[m - lo, hi - m], fmt='none', ecolor='#6fa8d4', elinewidth=1.5,
                capsize=3, capthick=1.2, alpha=0.7, zorder=2)
    xs, ys = np.array(insitu).T
    ax.scatter(xs, ys * 1e-3, s=14, c='black', alpha=0.75, linewidths=0, zorder=3)
    for p in pieces:
        ax.plot(t[p], m[p], color='blue', lw=5, solid_capstyle='round', zorder=4)
        ax.plot(t[p], obs[p], color='#d81b60', lw=2.5, alpha=0.85, zorder=5)
    ax.plot(t, obs, '+', color='#d81b60', ms=7, mew=1.2, alpha=0.85, zorder=5)

    ax.set_yscale('log')
    ax.set_ylim(1e-4, 5e-3)
    ax.set_xlim(2004.73, 2013.387)
    ax.set_xticks(year_ticks)
    ax.set_xticklabels([str(y) for y in year_ticks])
    ax.tick_params(axis='both', which='major', labelsize=27, length=5, width=1)
    ax.tick_params(axis='y', which='minor', length=3, width=0.8)
    ax.tick_params(axis='x', pad=4)
    ax.set_xlabel('date', fontsize=27, labelpad=5)
    ax.set_ylabel(ylab, fontsize=28)
    for s in ax.spines.values():
        s.set_linewidth(1.2)
        s.set_color('#333333')
    ax.yaxis.set_label_coords(-0.071, 0.5)
    fig.text(133 / W, 1 - title_y[i] / H, tag, fontsize=25, va='center')

    if i == 1:
        handles = [Line2D([], [], ls='none', marker='o', ms=9, color='black', alpha=0.65),
                   Line2D([], [], ls='none', marker='+', ms=18, mew=1.2, color='#d81b60', alpha=0.8),
                   ax.errorbar([np.nan], [np.nan], yerr=[np.nan], fmt='o', ms=12, color='blue', alpha=0.6,
                               ecolor='#1f77b4', capsize=5)]
        labels = ['In situ', 'Observation\nwith\nSGVB', 'MAP']
        ax.legend(handles, labels, fontsize=20.7, loc='upper left', bbox_to_anchor=(1583 / W, 1 - 570 / H),
                  bbox_transform=fig.transFigure, borderaxespad=0, handletextpad=1.0, labelspacing=0.5)

fig.savefig('out.png', dpi=100)
